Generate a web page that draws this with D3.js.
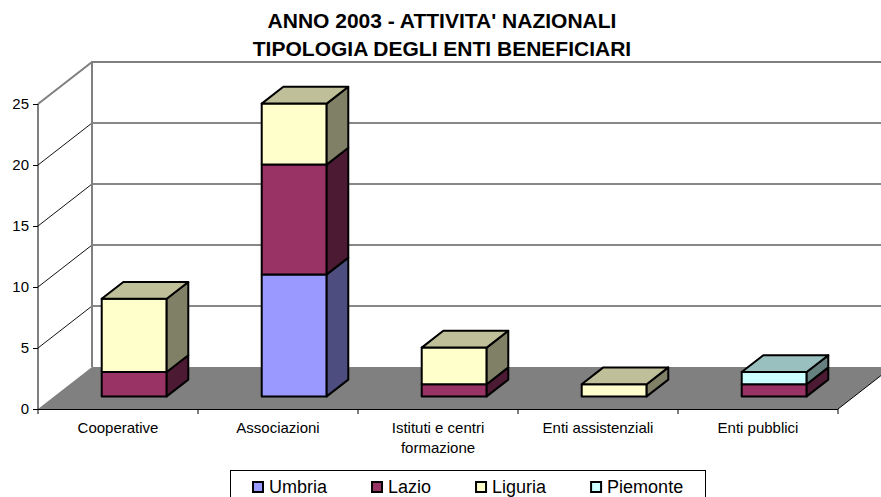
<!DOCTYPE html>
<html>
<head>
<meta charset="utf-8">
<script src="https://cdn.jsdelivr.net/npm/d3@7/dist/d3.min.js"></script>
<style>
  body { margin: 0; background: #fff; }
  text { font-family: Arial, "Liberation Sans", sans-serif; fill: #000; }
</style>
</head>
<body>
<svg id="chart"></svg>
<script>
const width = 881;
const height = 497;

// data
const categories = ["Cooperative", "Associazioni", "Istituti e centri formazione", "Enti assistenziali", "Enti pubblici"];
const seriesNames = ["Umbria", "Lazio", "Liguria", "Piemonte"];
const umbria   = [0, 10, 0, 0, 0];
const lazio    = [2, 9, 1, 0, 1];
const liguria  = [6, 5, 3, 1, 0];
const piemonte = [0, 0, 0, 0, 1];
const yTicks = [0, 5, 10, 15, 20, 25];
const titleLines = ["ANNO 2003 - ATTIVITA' NAZIONALI", "TIPOLOGIA DEGLI ENTI BENEFICIARI"];

const colors = ["#9999FF", "#993366", "#FFFFCC", "#CCFFFF"];

// 3d geometry: depth offset of the back wall
const DX = 54, DY = 42;

const svg = d3.select("#chart")
  .attr("width", width)
  .attr("height", height);

const x = d3.scaleBand()
  .domain(categories)
  .range([38, 838]);

const y = d3.scaleLinear()
  .domain([0, 25])
  .range([409, 104]);

// project point (screen x on front plane, value, depth 0..1)
const P = (px, v, d) => [px + d * DX, y(v) - d * DY];
const poly = pts => "M" + pts.map(p => p.join(",")).join("L") + "Z";

const shade = (c, k) => {
  const r = d3.rgb(c);
  return d3.rgb(r.r * k, r.g * k, r.b * k).formatHex();
};

// walls
const x0 = x.range()[0], x1 = x.range()[1];

svg.append("path")
  .attr("d", poly([P(x0, 0, 0), P(x1, 0, 0), P(x1, 0, 1), P(x0, 0, 1)]))
  .attr("fill", "#808080");

// gridlines: side wall diagonals + back wall horizontals
yTicks.filter(t => t > 0 && t < 25).forEach(t => {
  svg.append("path")
    .attr("d", "M" + P(x0, t, 0) + "L" + P(x0, t, 1) + "L" + P(width + 20, t, 1))
    .attr("fill", "none")
    .attr("stroke", "#111")
    .attr("stroke-width", 1);
});

// wall borders (gray)
svg.append("path")
  .attr("d", "M" + P(x0, 25, 0) + "L" + P(x0, 25, 1) + "L" + P(width + 20, 25, 1))
  .attr("fill", "none")
  .attr("stroke", "#808080")
  .attr("stroke-width", 2);
svg.append("path")
  .attr("d", "M" + P(x0, 25, 1) + "L" + P(x0, 0, 1))
  .attr("fill", "none")
  .attr("stroke", "#808080")
  .attr("stroke-width", 2);

// floor right edge
svg.append("path")
  .attr("d", "M" + P(x1, 0, 0) + "L" + P(x1, 0, 1))
  .attr("fill", "none")
  .attr("stroke", "#000")
  .attr("stroke-width", 1);

// y axis
const yAxis = d3.axisLeft(y).tickValues(yTicks).tickSize(5).tickPadding(4);
svg.append("g")
  .attr("transform", `translate(${x0},0)`)
  .call(yAxis)
  .call(g => g.select(".domain").attr("d", `M0,${y(0)}V${y(25)}`))
  .call(g => g.selectAll("text").style("font-size", "15px").attr("font-family", null));

// x axis
const xAxis = d3.axisBottom(x).tickSize(0).tickFormat("");
const xg = svg.append("g")
  .attr("transform", `translate(0,${y(0)})`)
  .call(xAxis);
xg.select(".domain").attr("d", `M${x0},0.5H${x1}`);
// boundary ticks
xg.selectAll(".bt")
  .data(categories.map(c => x(c)).concat([x1]))
  .enter().append("line")
  .attr("x1", d => d).attr("x2", d => d)
  .attr("y1", 0).attr("y2", 5)
  .attr("stroke", "#000");

// category labels, wrapped
categories.forEach(c => {
  const t = svg.append("text")
    .attr("x", x(c) + x.bandwidth() / 2)
    .attr("y", 433)
    .attr("text-anchor", "middle")
    .style("font-size", "15px");
  const words = c.split(" ");
  let line = [];
  let tspan = t.append("tspan").attr("x", x(c) + x.bandwidth() / 2);
  words.forEach(w => {
    line.push(w);
    tspan.text(line.join(" "));
    if (tspan.node().getComputedTextLength() > 150 && line.length > 1) {
      line.pop();
      tspan.text(line.join(" "));
      line = [w];
      tspan = t.append("tspan")
        .attr("x", x(c) + x.bandwidth() / 2)
        .attr("dy", 20)
        .text(w);
    }
  });
});

// stacked 3d bars
const table = categories.map((c, i) => ({
  cat: c, Umbria: umbria[i], Lazio: lazio[i], Liguria: liguria[i], Piemonte: piemonte[i]
}));
const stack = d3.stack().keys(seriesNames)(table);
const barW = x.bandwidth() * 0.406;
const dFront = 0.3, dBack = 0.7;

categories.forEach((c, i) => {
  const bx0 = x(c) + (x.bandwidth() - barW) / 2;
  const bx1 = bx0 + barW;
  const segs = stack.map((s, k) => ({ k: k, v0: s[i][0], v1: s[i][1] }))
    .filter(s => s.v1 > s.v0);
  const g = svg.append("g");
  segs.forEach((s, j) => {
    const col = colors[s.k];
    // front
    g.append("path")
      .attr("d", poly([P(bx0, s.v0, dFront), P(bx1, s.v0, dFront), P(bx1, s.v1, dFront), P(bx0, s.v1, dFront)]))
      .attr("fill", col);
    // side
    g.append("path")
      .attr("d", poly([P(bx1, s.v0, dFront), P(bx1, s.v0, dBack), P(bx1, s.v1, dBack), P(bx1, s.v1, dFront)]))
      .attr("fill", shade(col, 0.5));
    // top only for the top segment
    if (j === segs.length - 1) {
      g.append("path")
        .attr("d", poly([P(bx0, s.v1, dFront), P(bx1, s.v1, dFront), P(bx1, s.v1, dBack), P(bx0, s.v1, dBack)]))
        .attr("fill", shade(col, 0.75));
    }
  });
  g.selectAll("path")
    .attr("stroke", "#000")
    .attr("stroke-width", 2)
    .attr("stroke-linejoin", "round");
});

// title
svg.append("g")
  .selectAll("text")
  .data(titleLines)
  .enter().append("text")
  .attr("x", 442)
  .attr("y", (d, i) => 28 + i * 28)
  .attr("text-anchor", "middle")
  .style("font-size", "21px")
  .style("font-weight", "bold")
  .text(d => d);

// legend
const legend = svg.append("g");
legend.append("rect")
  .attr("x", 230.5).attr("y", 470.5)
  .attr("width", 475).attr("height", 40)
  .attr("fill", "#fff")
  .attr("stroke", "#000");
let lx = 252;
seriesNames.forEach((name, k) => {
  legend.append("rect")
    .attr("x", lx + 1).attr("y", 482)
    .attr("width", 10).attr("height", 10)
    .attr("fill", colors[k])
    .attr("stroke", "#000")
    .attr("stroke-width", 2);
  const t = legend.append("text")
    .attr("x", lx + 17)
    .attr("y", 493)
    .style("font-size", "18px")
    .text(name);
  lx += 17 + t.node().getComputedTextLength() + 44;
});
</script>
</body>
</html>
